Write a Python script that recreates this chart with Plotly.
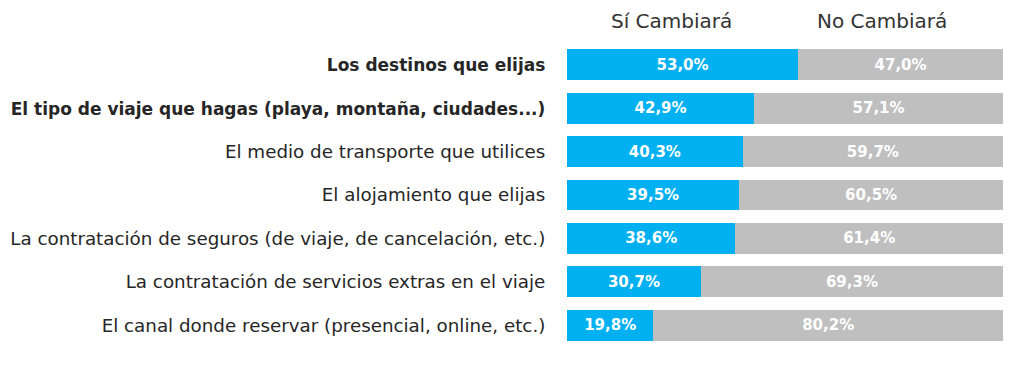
import plotly.graph_objects as go

categories = [
    "Los destinos que elijas",
    "El tipo de viaje que hagas (playa, montaña, ciudades...)",
    "El medio de transporte que utilices",
    "El alojamiento que elijas",
    "La contratación de seguros (de viaje, de cancelación, etc.)",
    "La contratación de servicios extras en el viaje",
    "El canal donde reservar (presencial, online, etc.)",
]
si_cambiara = [53.0, 42.9, 40.3, 39.5, 38.6, 30.7, 19.8]
no_cambiara = [47.0, 57.1, 59.7, 60.5, 61.4, 69.3, 80.2]
bold_rows = [0, 1]
series_names = ["Sí Cambiará", "No Cambiará"]

FONT = "DejaVu Sans"

def fmt(v):
    return f"{v:.1f}".replace(".", ",") + "%"

tick_text = [f'<span style="font-size:17px"><b>{c}</b></span>' if i in bold_rows else c
             for i, c in enumerate(categories)]

fig = go.Figure()
for vals, name, col in [(si_cambiara, series_names[0], "#00B0F0"),
                        (no_cambiara, series_names[1], "#BFBFBF")]:
    fig.add_trace(go.Bar(
        y=categories, x=vals, orientation="h", name=name,
        marker=dict(color=col, line=dict(width=0)),
        text=[fmt(v) for v in vals], textposition="inside", insidetextanchor="middle",
        textfont=dict(family=FONT, size=15, color="white", weight="bold"),
    ))

fig.update_layout(
    barmode="stack", bargap=0.29, showlegend=False,
    width=1024, height=368,
    margin=dict(l=567, r=21, t=43, b=21),
    paper_bgcolor="white", plot_bgcolor="white",
    font=dict(family=FONT, color="#333333"),
    uniformtext=dict(mode="show", minsize=8),
)
fig.update_xaxes(range=[0, 100], visible=False, fixedrange=True, automargin=False)
fig.update_yaxes(
    autorange="reversed", tickmode="array", tickvals=categories, ticktext=tick_text,
    tickfont=dict(family=FONT, size=18.3, color="#262626"),
    ticks="outside", ticklen=17, tickcolor="rgba(0,0,0,0)",
    showline=False, showgrid=False, fixedrange=True, automargin=False,
)
fig.add_annotation(x=23.9, y=1, xref="x", yref="paper", yshift=8, yanchor="bottom",
                   text=series_names[0], showarrow=False,
                   font=dict(family=FONT, size=20, color="#333333"))
fig.add_annotation(x=72.2, y=1, xref="x", yref="paper", yshift=8, yanchor="bottom",
                   text=series_names[1], showarrow=False,
                   font=dict(family=FONT, size=20, color="#333333"))

fig.write_html("out.html", config={"displayModeBar": False},
               post_script="document.body.style.margin='0';document.body.style.overflow='hidden';")
